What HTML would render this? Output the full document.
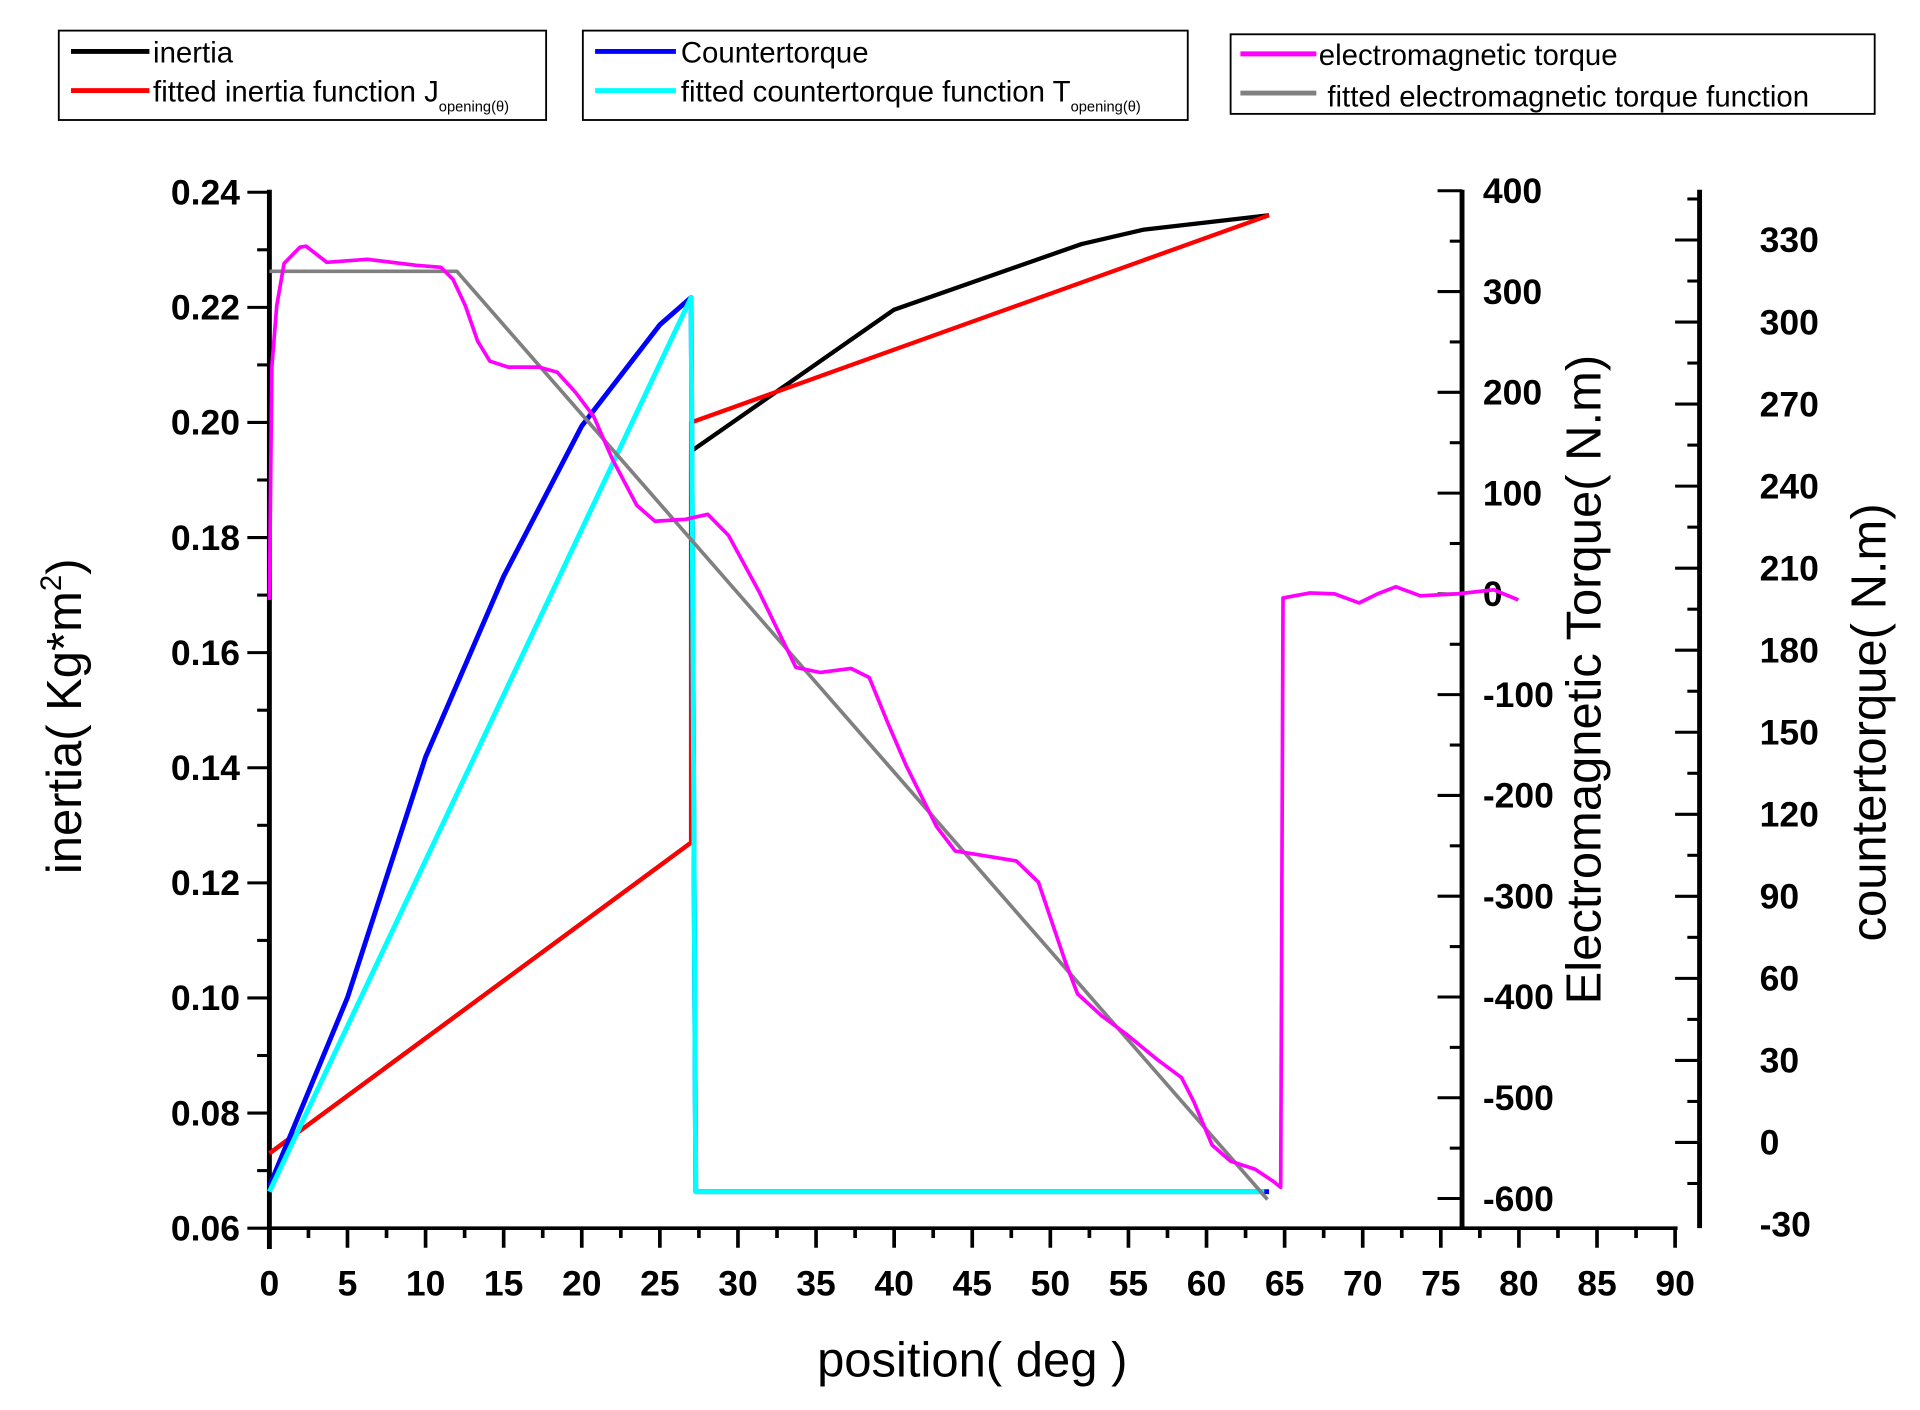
<!DOCTYPE html>
<html><head><meta charset="utf-8">
<style>
html,body{margin:0;padding:0;background:#fff;}
svg{display:block;}
text{font-family:"Liberation Sans",Arial,sans-serif;fill:#000;}
.tk{font-size:29px;font-weight:bold;}
.lg{font-family:"Liberation Sans Narrow","Liberation Sans",sans-serif;font-size:24px;}
.tt{font-family:"Liberation Sans Narrow","Liberation Sans",sans-serif;font-size:40px;}
</style></head>
<body>
<svg id="chart" width="1920" height="1410" viewBox="0 0 1568 1151.5" xmlns="http://www.w3.org/2000/svg">
<g id="legend">
  <rect x="48" y="25" width="398" height="73" fill="none" stroke="#000" stroke-width="1.5"/>
  <line x1="58" y1="42" x2="122" y2="42" stroke="#000" stroke-width="4"/>
  <text class="lg" x="125" y="51">inertia</text>
  <line x1="58" y1="74" x2="122" y2="74" stroke="#f00" stroke-width="4"/>
  <text class="lg" x="125" y="83">fitted inertia function J<tspan font-size="12" dy="8">opening(θ)</tspan></text>

  <rect x="476" y="25" width="494" height="73" fill="none" stroke="#000" stroke-width="1.5"/>
  <line x1="486" y1="42" x2="552" y2="42" stroke="#00f" stroke-width="4"/>
  <text class="lg" x="556" y="51">Countertorque</text>
  <line x1="486" y1="74" x2="552" y2="74" stroke="#0ff" stroke-width="4"/>
  <text class="lg" x="556" y="83">fitted countertorque function T<tspan font-size="12" dy="8">opening(θ)</tspan></text>

  <rect x="1005" y="28" width="526" height="65" fill="none" stroke="#000" stroke-width="1.5"/>
  <line x1="1013" y1="44" x2="1075" y2="44" stroke="#f0f" stroke-width="4"/>
  <text class="lg" x="1077" y="53">electromagnetic torque</text>
  <line x1="1013" y1="76" x2="1075" y2="76" stroke="#808080" stroke-width="4"/>
  <text class="lg" x="1084" y="87">fitted electromagnetic torque function</text>
</g>
<g id="axes"></g>
<g id="series"></g>
<text class="tt" x="794" y="1124" text-anchor="middle">position( deg )</text>
<text class="tt" transform="translate(66,585) rotate(-90)" text-anchor="middle">inertia( Kg*m<tspan font-size="24" dy="-16">2</tspan><tspan dy="16">)</tspan></text>
<text class="tt" transform="translate(1307,555) rotate(-90)" text-anchor="middle">Electromagnetic Torque( N.m)</text>
<text class="tt" transform="translate(1540,590) rotate(-90)" text-anchor="middle">countertorque( N.m)</text>
</svg>
<script>
// ---- data ----
const inertiaX = [0, 27, 27, 40, 52, 56, 64];
const inertiaY = [0.073, 0.127, 0.195, 0.2196, 0.231, 0.2335, 0.236];
const fitInertiaX = [0, 27, 27, 64];
const fitInertiaY = [0.073, 0.127, 0.200, 0.236];
const counterX = [0, 5, 10, 15, 20, 25, 27, 27.3, 64];
const counterY = [-16, 53, 141, 207, 262, 299, 309, -18, -18];
const fitCounterX = [0, 27, 27.3, 63.7];
const fitCounterY = [-18, 309, -18, -18];
const emX = [0,0.16,0.47,0.94,1.96,2.35,3.68,6.27,9.41,10.98,11.76,12.54,13.33,14.11,15.29,17.25,18.42,19.6,20.77,21.95,23.52,24.69,26.65,28.07,29.4,31.36,33.71,35.28,37.24,38.41,39.59,40.76,42.72,43.9,45.47,47.82,49.23,50.96,51.74,53.31,54.88,56.84,58.4,59.19,60.36,61.54,63.11,64.28,64.75,64.9,66.63,68.2,69.77,70.95,72.12,73.69,76.04,78.39,79.96];
const emY = [-6,225,286,328,344,345,329,332,326,324,312,286,251,231,225,225,220,200,176,134,88,72,74,79,58,2,-73,-78,-74,-83,-128,-170,-231,-255,-259,-265,-286,-365,-397,-419,-437,-462,-480,-504,-547,-563,-571,-583,-589,-4,1,0,-9,0,7,-2,0,4,-6];
const fitEmX = [0, 12, 63.9];
const fitEmY = [320, 320, -601];
const xTicks = [0,5,10,15,20,25,30,35,40,45,50,55,60,65,70,75,80,85,90];
const inertiaTicks = ["0.06","0.08","0.10","0.12","0.14","0.16","0.18","0.20","0.22","0.24"];
const emTicks = [-600,-500,-400,-300,-200,-100,0,100,200,300,400];
const counterTicks = [-30,0,30,60,90,120,150,180,210,240,270,300,330];

// ---- scales ----
const X = d => 220 + (d/90)*(1368-220);
const YL = v => 1003 - (v-0.06)/0.18*846;
const YE = v => 485 - v*0.823;
const YC = v => 933 - v*(737/330);
const NS = "http://www.w3.org/2000/svg";
const axes = document.getElementById('axes');
const series = document.getElementById('series');
function mk(tag, attrs, parent){const e=document.createElementNS(NS,tag);for(const k in attrs)e.setAttribute(k,attrs[k]);parent.appendChild(e);return e;}

// x axis
let a = mk('line',{x1:218,y1:1003,x2:1370,y2:1003,stroke:'#000','stroke-width':3},axes);


for(let d=0; d<=90; d+=2.5){
  const major = d%5===0;
  const t = mk('line',{x1:X(d),y1:1003,x2:X(d),y2:major?1019:1011,stroke:'#000','stroke-width':3},axes);
  
  
}
xTicks.forEach(d=>{
  const t = mk('text',{x:X(d),y:1058,'text-anchor':'middle',class:'tk'},axes);
  t.textContent = d;
  
  
});
// left axis
a = mk('line',{x1:220,y1:155,x2:220,y2:1020,stroke:'#000','stroke-width':4},axes);


for(let i=0;i<=18;i++){
  const v=0.06+i*0.01; const major=i%2===0;
  const t = mk('line',{x1:major?202:210,y1:YL(v),x2:220,y2:YL(v),stroke:'#000','stroke-width':2.5},axes);
  
  
}
inertiaTicks.forEach(s=>{
  const t = mk('text',{x:196,y:YL(parseFloat(s))+10,'text-anchor':'end',class:'tk'},axes);
  t.textContent = s;
  
  
});
// em axis
a = mk('line',{x1:1194,y1:155,x2:1194,y2:1003,stroke:'#000','stroke-width':4},axes);


for(let v=-600; v<=400; v+=50){
  const major=v%100===0;
  const t = mk('line',{x1:major?1174:1184,y1:YE(v),x2:1194,y2:YE(v),stroke:'#000','stroke-width':2.5},axes);
  
  
}
emTicks.forEach(v=>{
  const t = mk('text',{x:1211,y:YE(v)+10,'text-anchor':'start',class:'tk'},axes);
  t.textContent = v;
  
  
});
// countertorque axis
a = mk('line',{x1:1388,y1:155,x2:1388,y2:1003,stroke:'#000','stroke-width':4},axes);


for(let v=-15; v<=345; v+=15){
  const y=YC(v); if(y<155||y>1003) continue;
  const major=v%30===0;
  const t = mk('line',{x1:major?1368:1378,y1:y,x2:1388,y2:y,stroke:'#000','stroke-width':2.5},axes);
  
  
}
counterTicks.forEach(v=>{
  const t = mk('text',{x:1437,y:YC(v)+10,'text-anchor':'start',class:'tk'},axes);
  t.textContent = v;
  
  
});

function line(xs, ys, yf, color, w, name){
  const pts = xs.map((d,i)=>X(d).toFixed(1)+','+yf(ys[i]).toFixed(1)).join(' ');
  const p = mk('polyline',{points:pts,fill:'none',stroke:color,'stroke-width':w,'stroke-linejoin':'round'},series);
  
  
}
line(inertiaX, inertiaY, YL, '#000', 3.5, 'inertia-line');
line(fitInertiaX, fitInertiaY, YL, '#f00', 3.5, 'fitted-inertia-line');
line(counterX, counterY, YC, '#00f', 4, 'countertorque-line');
line(fitCounterX, fitCounterY, YC, '#0ff', 4, 'fitted-countertorque-line');
line(fitEmX, fitEmY, YE, '#808080', 3, 'fitted-em-torque-line');
line(emX, emY, YE, '#f0f', 3, 'em-torque-line');
</script>
</body></html>
